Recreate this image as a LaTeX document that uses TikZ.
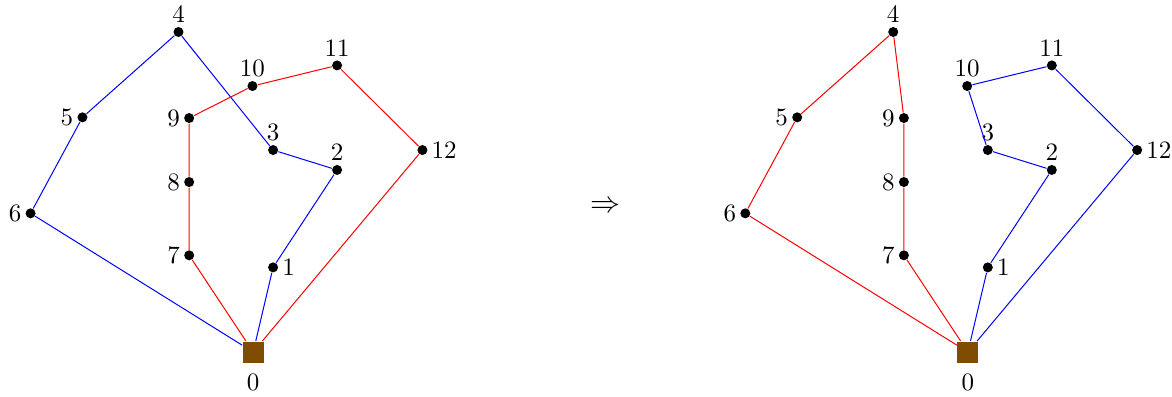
\documentclass[tikz,border=0pt]{standalone}
\usepackage{tikz}
\usepackage{xcolor}
\usetikzlibrary{positioning}
\usetikzlibrary{calc}
\definecolor{depotbrown}{RGB}{128,77,0}
\tikzset{
  % A customer: small black dot with its number
  cust/.style={
    circle, fill=black, draw=none, inner sep=0pt, minimum size=4pt,
    label={[inner sep=1pt, label distance=0.3pt]#1}},
  % The depot
  depot/.style={
    rectangle, fill=depotbrown, draw=none, inner sep=0pt, minimum size=8.4pt,
    label={[inner sep=1pt, label distance=3pt]below:0}},
  % Routes
  routeA/.style={draw=blue, line width=0.4pt},
  routeB/.style={draw=red, line width=0.4pt},
}

\begin{document}
\begin{tikzpicture}

\useasboundingbox (-3.56,-0.63) rectangle (12.92,4.95);

% before
\node[depot] (a0) at (0,0) {};
\node[cust=right:1]  (a1)  at (0.28,1.19) {};
\node[cust=above:2]  (a2)  at (1.18,2.56) {};
\node[cust=above:3]  (a3)  at (0.28,2.84) {};
\node[cust=above:4]  (a4)  at (-1.05,4.50) {};
\node[cust=left:5]   (a5)  at (-2.40,3.30) {};
\node[cust=left:6]   (a6)  at (-3.13,1.95) {};
\node[cust=left:7]   (a7)  at (-0.90,1.36) {};
\node[cust=left:8]   (a8)  at (-0.90,2.39) {};
\node[cust=left:9]   (a9)  at (-0.90,3.29) {};
\node[cust=above:10] (a10) at (-0.01,3.74) {};
\node[cust=above:11] (a11) at (1.18,4.03) {};
\node[cust=right:12] (a12) at (2.38,2.84) {};

\draw[routeA] (a0) -- (a1) -- (a2) -- (a3) -- (a4) -- (a5) -- (a6) -- (a0);
\draw[routeB] (a0) -- (a7) -- (a8) -- (a9) -- (a10) -- (a11) -- (a12) -- (a0);

\node[font=\large] (arr) at (4.95,2.04) {$\Rightarrow$};

% after
\node[depot] (b0) at (10.05,0) {};
\node[cust=right:1]  (b1)  at (10.33,1.19) {};
\node[cust=above:2]  (b2)  at (11.23,2.56) {};
\node[cust=above:3]  (b3)  at (10.33,2.84) {};
\node[cust=above:4]  (b4)  at (9.00,4.50) {};
\node[cust=left:5]   (b5)  at (7.65,3.30) {};
\node[cust=left:6]   (b6)  at (6.92,1.95) {};
\node[cust=left:7]   (b7)  at (9.15,1.36) {};
\node[cust=left:8]   (b8)  at (9.15,2.39) {};
\node[cust=left:9]   (b9)  at (9.15,3.29) {};
\node[cust=above:10] (b10) at (10.04,3.74) {};
\node[cust=above:11] (b11) at (11.23,4.03) {};
\node[cust=right:12] (b12) at (12.43,2.84) {};

\draw[routeB] (b0) -- (b7) -- (b8) -- (b9) -- (b4) -- (b5) -- (b6) -- (b0);
\draw[routeA] (b0) -- (b1) -- (b2) -- (b3) -- (b10) -- (b11) -- (b12) -- (b0);

\end{tikzpicture}
\end{document}
